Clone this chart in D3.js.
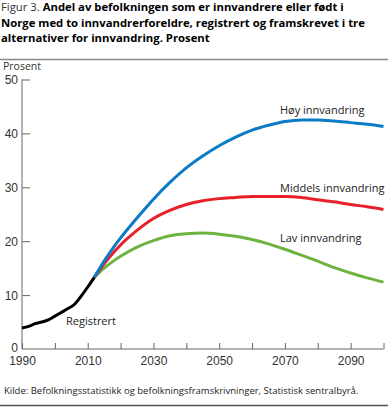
<!DOCTYPE html>
<html>
<head>
<meta charset="utf-8">
<script src="https://cdn.jsdelivr.net/npm/d3@7"></script>
<style>
  body { margin: 0; background: #fff; }
  svg { display: block; font-family: "Open Sans", sans-serif; }
</style>
</head>
<body>
<svg id="chart" width="388" height="407"></svg>
<script>
// registered share, 1990-2012
var regYears = [1990, 1992, 1994, 1996, 1998, 2000, 2002, 2004, 2006, 2008, 2010, 2012];
var regValues = [3.9, 4.2, 4.7, 5.0, 5.4, 6.1, 6.8, 7.5, 8.3, 9.8, 11.5, 13.3];

// projections, 2012-2100
var projYears = [2012, 2015, 2018, 2020, 2025, 2030, 2035, 2040, 2045, 2050, 2055, 2060, 2065, 2070, 2075, 2080, 2085, 2090, 2095, 2100];
var hoyValues = [13.3, 16.3, 19.0, 20.6, 24.3, 27.8, 30.9, 33.6, 35.8, 37.7, 39.3, 40.6, 41.5, 42.2, 42.5, 42.5, 42.3, 42.0, 41.7, 41.3];
var middelsValues = [13.3, 15.8, 18.0, 19.3, 22.0, 24.2, 25.7, 26.8, 27.5, 27.9, 28.1, 28.3, 28.3, 28.3, 28.1, 27.7, 27.3, 26.8, 26.4, 25.9];
var lavValues = [13.3, 15.0, 16.4, 17.2, 18.9, 20.1, 21.0, 21.4, 21.5, 21.3, 20.9, 20.3, 19.5, 18.5, 17.4, 16.3, 15.1, 14.1, 13.2, 12.4];

var seriesNames = ["Høy innvandring", "Middels innvandring", "Lav innvandring"];
var xTicks = [1990, 2000, 2010, 2020, 2030, 2040, 2050, 2060, 2070, 2080, 2090, 2100];
var xLabels = [1990, 2010, 2030, 2050, 2070, 2090];
var yTicks = [0, 10, 20, 30, 40, 50];

var svg = d3.select("#chart");

// title
var tfs = "11.3px";
var title = svg.append("text").attr("fill", "#000").style("font-size", tfs);
title.append("tspan").attr("x", 1).attr("y", 11).style("font-weight", "normal").attr("fill", "#333").text("Figur 3. ");
title.append("tspan").style("font-weight", "bold").text("Andel av befolkningen som er innvandrere eller født i");
svg.append("text").attr("x", 1).attr("y", 26.5).style("font-size", tfs).style("font-weight", "bold")
  .text("Norge med to innvandrerforeldre, registrert og framskrevet i tre");
svg.append("text").attr("x", 1).attr("y", 42).style("font-size", tfs).style("font-weight", "bold")
  .text("alternativer for innvandring. Prosent");

svg.append("line").attr("x1", 0).attr("x2", 388).attr("y1", 59.5).attr("y2", 59.5)
  .attr("stroke", "#888").attr("stroke-width", 1.5);

var x = d3.scaleLinear().domain([1990, 2100]).range([22, 383.5]);
var y = d3.scaleLinear().domain([0, 50]).range([349, 79.5]);

// axes
var yAxis = d3.axisLeft(y).tickValues(yTicks).tickSize(-8).tickPadding(12);
var gy = svg.append("g").attr("transform", "translate(22,0)").call(yAxis);
gy.select(".domain").remove();
gy.append("line").attr("x1", 0).attr("x2", 0).attr("y1", y(50)).attr("y2", y(0)).attr("stroke", "#666");
gy.selectAll(".tick line").attr("stroke", "#666");
gy.selectAll(".tick text").attr("fill", "#333").style("font-size", "12px").attr("x", -4).attr("dy", "0.36em");
gy.selectAll(".tick").filter(function(d) { return d === 0; }).select("line").remove();
gy.selectAll(".tick").filter(function(d) { return d === 0; }).select("text").attr("dy", "0.2em");

var xAxis = d3.axisBottom(x).tickValues(xTicks).tickSize(-6).tickPadding(6)
  .tickFormat(function(d) { return xLabels.indexOf(d) >= 0 ? d : ""; });
var gx = svg.append("g").attr("transform", "translate(0,349)").call(xAxis);
gx.select(".domain").remove();
gx.append("line").attr("x1", 22).attr("x2", 383.5).attr("y1", 0).attr("y2", 0).attr("stroke", "#666");
gx.selectAll(".tick line").attr("stroke", "#666");
gx.selectAll(".tick text").attr("fill", "#333").style("font-size", "12px").attr("y", 7);

svg.append("text").attr("x", 3).attr("y", 70).attr("fill", "#333").style("font-size", "10.5px").text("Prosent");

// lines
var line = d3.line().x(function(d) { return x(d[0]); }).y(function(d) { return y(d[1]); }).curve(d3.curveMonotoneX);

var projections = [
  { name: seriesNames[0], values: hoyValues, color: "#0b7bc6" },
  { name: seriesNames[1], values: middelsValues, color: "#e8202a" },
  { name: seriesNames[2], values: lavValues, color: "#6db33f" }
];

projections.slice().reverse().forEach(function(s) {
  svg.append("path")
    .datum(d3.zip(projYears, s.values))
    .attr("d", line)
    .attr("fill", "none")
    .attr("stroke", s.color)
    .attr("stroke-width", 3);
});

svg.append("path")
  .datum(d3.zip(regYears, regValues))
  .attr("d", line)
  .attr("fill", "none")
  .attr("stroke", "#000")
  .attr("stroke-width", 3);

// labels
var labelY = [114, 191.5, 242];
seriesNames.forEach(function(n, i) {
  svg.append("text").attr("x", 280).attr("y", labelY[i]).attr("fill", "#222").style("font-size", "11px").text(n);
});
svg.append("text").attr("x", 66).attr("y", 324.5).attr("fill", "#222").style("font-size", "11px").text("Registrert");

// source
svg.append("text").attr("x", 4).attr("y", 394).attr("fill", "#222").style("font-size", "9.5px")
  .text("Kilde: Befolkningsstatistikk og befolkningsframskrivninger, Statistisk sentralbyrå.");
svg.append("line").attr("x1", 0).attr("x2", 388).attr("y1", 405.5).attr("y2", 405.5)
  .attr("stroke", "#555").attr("stroke-width", 1.5);
</script>
</body>
</html>
